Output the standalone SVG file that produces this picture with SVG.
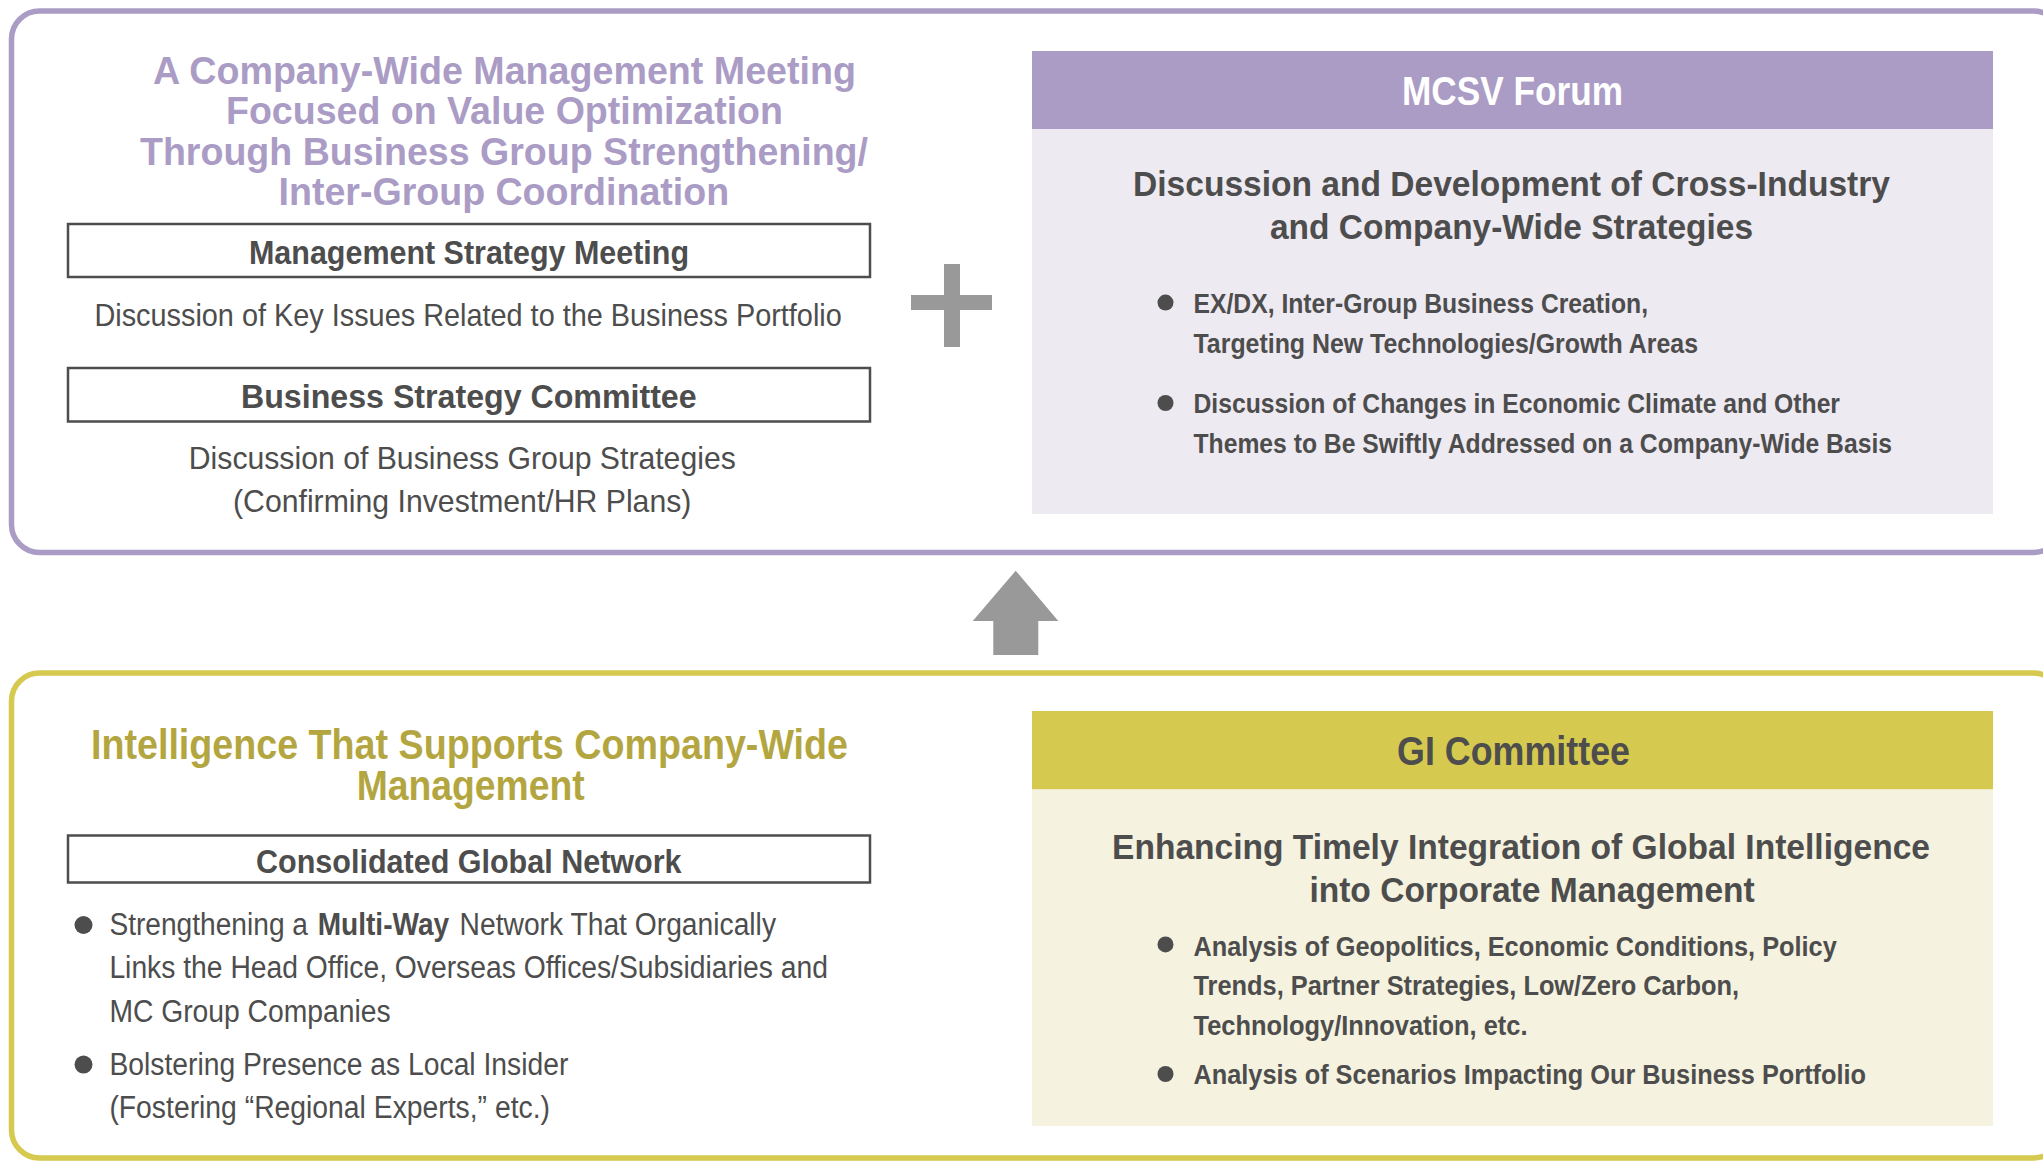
<svg xmlns="http://www.w3.org/2000/svg" width="2043" height="1161" viewBox="0 0 2043 1161">
<style>
text{font-family:"Liberation Sans Narrow","Liberation Sans",Arial,sans-serif;}
.b{font-weight:bold;}
.g{fill:#4d4d4d;}
.pt{fill:#ab9cc6;font-weight:bold;font-size:39px;}
.yt{fill:#b3a640;font-weight:bold;font-size:42px;}
.bx{fill:none;stroke:#4d4d4d;stroke-width:2.5;}
.hd{font-size:33px;}
.rg{font-size:31.5px;}
.h1{font-size:40px;}
.h2{font-size:35px;}
.bl{font-size:28px;}
.dot{fill:#4d4d4d;}
</style>
<rect width="2043" height="1161" fill="#ffffff"/>

<g id="top-panel">
<rect x="11.5" y="11" width="2050" height="541.5" rx="28" ry="28" fill="#ffffff" stroke="#ab9cc6" stroke-width="5.5"/>
</g>

<g id="bottom-panel">
<rect x="11.5" y="673" width="2050" height="485" rx="28" ry="28" fill="#ffffff" stroke="#d5c94f" stroke-width="5.5"/>
</g>

<g id="company-wide-title">
<text class="pt" x="153" y="84" textLength="703" lengthAdjust="spacingAndGlyphs">A Company-Wide Management Meeting</text>
<text class="pt" x="226" y="124" textLength="557" lengthAdjust="spacingAndGlyphs">Focused on Value Optimization</text>
<text class="pt" x="140" y="164.5" textLength="728" lengthAdjust="spacingAndGlyphs">Through Business Group Strengthening/</text>
<text class="pt" x="278.6" y="205" textLength="450.5" lengthAdjust="spacingAndGlyphs">Inter-Group Coordination</text>
</g>

<g id="management-strategy-meeting">
<rect class="bx" x="68" y="224" width="802" height="53"/>
<text class="g b hd" x="249" y="264" textLength="440" lengthAdjust="spacingAndGlyphs">Management Strategy Meeting</text>
<text class="g rg" x="94.4" y="325.5" textLength="747.4" lengthAdjust="spacingAndGlyphs">Discussion of Key Issues Related to the Business Portfolio</text>
</g>

<g id="business-strategy-committee">
<rect class="bx" x="68" y="368" width="802" height="53.5"/>
<text class="g b hd" x="241" y="408" textLength="455.6" lengthAdjust="spacingAndGlyphs">Business Strategy Committee</text>
<text class="g rg" x="188.8" y="469" textLength="547" lengthAdjust="spacingAndGlyphs">Discussion of Business Group Strategies</text>
<text class="g rg" x="233" y="512" textLength="458.4" lengthAdjust="spacingAndGlyphs">(Confirming Investment/HR Plans)</text>
</g>

<g id="plus-sign" fill="#999999">
<rect x="944" y="264" width="16" height="83"/>
<rect x="911" y="295" width="81" height="15"/>
</g>

<g id="mcsv-forum">
<rect x="1032" y="51" width="961" height="78" fill="#ab9cc6"/>
<rect x="1032" y="129" width="961" height="385" fill="#edeaf2"/>
<text class="b h1" fill="#ffffff" x="1402" y="105.4" textLength="221" lengthAdjust="spacingAndGlyphs">MCSV Forum</text>
<text class="g b h2" x="1133" y="196" textLength="757" lengthAdjust="spacingAndGlyphs">Discussion and Development of Cross-Industry</text>
<text class="g b h2" x="1270" y="238.6" textLength="483" lengthAdjust="spacingAndGlyphs">and Company-Wide Strategies</text>
<circle class="dot" cx="1165.5" cy="302.6" r="8"/>
<text class="g b bl" x="1193.5" y="312.6" textLength="454.5" lengthAdjust="spacingAndGlyphs">EX/DX, Inter-Group Business Creation,</text>
<text class="g b bl" x="1193.5" y="353" textLength="504.5" lengthAdjust="spacingAndGlyphs">Targeting New Technologies/Growth Areas</text>
<circle class="dot" cx="1165.5" cy="403" r="8"/>
<text class="g b bl" x="1193.5" y="413" textLength="646.5" lengthAdjust="spacingAndGlyphs">Discussion of Changes in Economic Climate and Other</text>
<text class="g b bl" x="1193.5" y="453" textLength="698.5" lengthAdjust="spacingAndGlyphs">Themes to Be Swiftly Addressed on a Company-Wide Basis</text>
</g>

<g id="intelligence-title">
<text class="yt" x="91" y="759.4" textLength="757" lengthAdjust="spacingAndGlyphs">Intelligence That Supports Company-Wide</text>
<text class="yt" x="356.8" y="800" textLength="227.8" lengthAdjust="spacingAndGlyphs">Management</text>
</g>

<g id="consolidated-global-network">
<rect class="bx" x="68" y="835.5" width="802" height="47"/>
<text class="g b hd" x="256" y="872.5" textLength="425.6" lengthAdjust="spacingAndGlyphs">Consolidated Global Network</text>
<circle class="dot" cx="83.5" cy="925" r="9"/>
<text class="g" font-size="31" x="109.4" y="935" textLength="198.6" lengthAdjust="spacingAndGlyphs">Strengthening a</text>
<text class="g b" font-size="31" x="317.7" y="935" textLength="131.5" lengthAdjust="spacingAndGlyphs">Multi-Way</text>
<text class="g" font-size="31" x="459.6" y="935" textLength="316.4" lengthAdjust="spacingAndGlyphs">Network That Organically</text>
<text class="g" font-size="31" x="109.4" y="978" textLength="718.6" lengthAdjust="spacingAndGlyphs">Links the Head Office, Overseas Offices/Subsidiaries and</text>
<text class="g" font-size="31" x="109.4" y="1021.5" textLength="281.2" lengthAdjust="spacingAndGlyphs">MC Group Companies</text>
<circle class="dot" cx="83.5" cy="1064.6" r="9"/>
<text class="g" font-size="31" x="109.4" y="1075" textLength="459" lengthAdjust="spacingAndGlyphs">Bolstering Presence as Local Insider</text>
<text class="g" font-size="31" x="109.4" y="1118" textLength="440.6" lengthAdjust="spacingAndGlyphs">(Fostering “Regional Experts,” etc.)</text>
</g>

<g id="gi-committee">
<rect x="1032" y="711" width="961" height="78.5" fill="#d5c94f"/>
<rect x="1032" y="789.5" width="961" height="336.5" fill="#f5f2df"/>
<text class="g b h1" x="1397" y="765" textLength="233" lengthAdjust="spacingAndGlyphs">GI Committee</text>
<text class="g b h2" x="1112" y="859" textLength="818" lengthAdjust="spacingAndGlyphs">Enhancing Timely Integration of Global Intelligence</text>
<text class="g b h2" x="1309.4" y="902" textLength="445.3" lengthAdjust="spacingAndGlyphs">into Corporate Management</text>
<circle class="dot" cx="1165.5" cy="944.4" r="8"/>
<text class="g b bl" x="1193.5" y="955.5" textLength="643.3" lengthAdjust="spacingAndGlyphs">Analysis of Geopolitics, Economic Conditions, Policy</text>
<text class="g b bl" x="1193.5" y="995" textLength="545.5" lengthAdjust="spacingAndGlyphs">Trends, Partner Strategies, Low/Zero Carbon,</text>
<text class="g b bl" x="1193.5" y="1035" textLength="334" lengthAdjust="spacingAndGlyphs">Technology/Innovation, etc.</text>
<circle class="dot" cx="1165.5" cy="1074" r="8"/>
<text class="g b bl" x="1193.5" y="1084" textLength="672.5" lengthAdjust="spacingAndGlyphs">Analysis of Scenarios Impacting Our Business Portfolio</text>
</g>

<g id="connectors">
<polygon points="1015.7,570.7 1058.3,621 1038.3,621 1038.3,655 993.3,655 993.3,621 972.7,621" fill="#999999"/>
</g>
</svg>
